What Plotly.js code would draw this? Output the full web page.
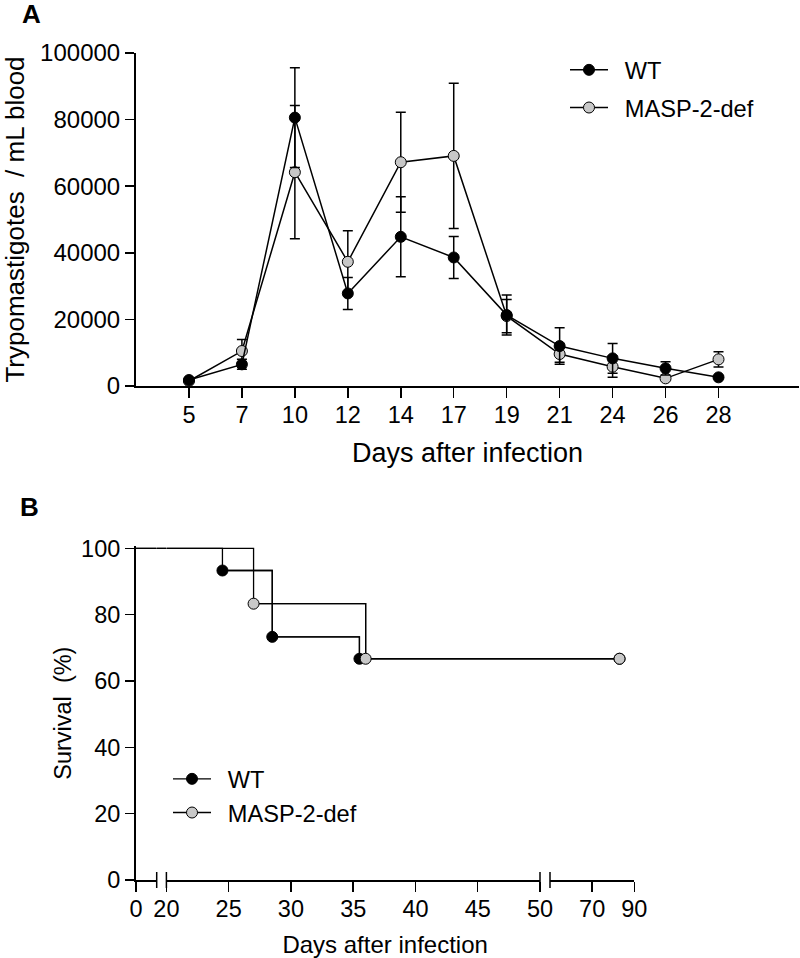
<!DOCTYPE html>
<html><head><meta charset="utf-8">
<script src="https://cdn.plot.ly/plotly-3.0.1.min.js"></script>
<style>html,body{margin:0;padding:0;background:#fff}#chart{width:800px;height:958px}</style>
</head><body><div id="chart"></div>
<script>
// ---------- Panel A data ----------
const daysA = ['5','7','10','12','14','17','19','21','24','26','28'];
const wtMean   = [1800, 6500, 80600, 27800, 44800, 38600, 21300, 12000, 8300, 5300, 2600];
const wtSem    = [300, 1500, 15000, 4800, 12000, 6300, 6000, 5500, 4500, 2000, 500];
const maspMean = [1500, 10500, 64200, 37300, 67200, 69100, 21000, 9600, 5800, 2300, 8000];
const maspSem  = [300, 3500, 20000, 9300, 15000, 21800, 5000, 2500, 3200, 600, 2300];
const yTicksA  = [0, 20000, 40000, 60000, 80000, 100000];

// ---------- Panel B data ----------
const wtTimes   = [0, 24.5, 28.5, 35.5, 83];
const wtSurv    = [100, 93.3, 73.3, 66.7, 66.7];
const maspTimes = [0, 27, 36, 83];
const maspSurv  = [100, 83.3, 66.7, 66.7];
const yTicksB   = [0, 20, 40, 60, 80, 100];
const seg1Ticks = [0];
const seg2Ticks = [20, 25, 30, 35, 40, 45, 50];
const seg3Ticks = [70, 90];
const groupNames = ['WT', 'MASP-2-def'];

// ---------- layout helpers ----------
const W = 800, H = 958;
const px = v => v / W;
const py = v => 1 - v / H;
const FONT = 'Liberation Sans, Arial, Helvetica, sans-serif';
const GRAY = '#c8c8c8';
const legendLabel = s => '\u2002' + s;   // small gap between legend symbol and text

// broken x-axis segments of panel B (axis ranges in days)
const segs = [
  {ax: 'x2', range: [0, 1.66]},
  {ax: 'x4', range: [20, 50]},
  {ax: 'x6', range: [50, 90]}
];
const gaps = [{ax: 'x3', nextStart: 20}, {ax: 'x5', nextStart: 50}];

function stepValue(times, surv, t) {
  let v = surv[0];
  for (let i = 0; i < times.length; i++) if (times[i] <= t) v = surv[i];
  return v;
}
function stepSegment(times, surv, lo, hi) {
  const last = times[times.length - 1];
  if (last < lo) return null;
  const xs = [lo], ys = [stepValue(times, surv, lo)];
  for (let i = 0; i < times.length; i++) {
    if (times[i] > lo && times[i] <= hi) { xs.push(times[i]); ys.push(surv[i]); }
  }
  if (last > hi) { xs.push(hi); ys.push(ys[ys.length - 1]); }
  return {xs, ys};
}

const traces = [];

// Panel A (MASP first so WT markers sit on top)
function seriesA(name, mean, sem, fill, rank) {
  return {
    type: 'scatter', mode: 'lines+markers', name: legendLabel(name),
    x: daysA, y: mean, xaxis: 'x', yaxis: 'y',
    line: {color: 'black', width: 1.5},
    marker: {size: 11, color: fill, line: {color: 'black', width: 1}},
    error_y: {type: 'data', array: sem, visible: true, color: 'black', thickness: 1.5, width: 5},
    cliponaxis: false, legend: 'legend', legendgroup: name, legendrank: rank
  };
}
traces.push(seriesA(groupNames[1], maspMean, maspSem, GRAY, 2));
traces.push(seriesA(groupNames[0], wtMean, wtSem, 'black', 1));

// Panel B step lines
function survLines(times, surv) {
  segs.forEach(s => {
    const seg = stepSegment(times, surv, s.range[0], s.range[1]);
    if (!seg) return;
    traces.push({type: 'scatter', mode: 'lines', x: seg.xs, y: seg.ys, xaxis: s.ax, yaxis: 'y2',
      line: {color: 'black', width: 1.3, shape: 'hv'}, showlegend: false, hoverinfo: 'skip'});
  });
  gaps.forEach(g => {
    const v = stepValue(times, surv, g.nextStart);
    traces.push({type: 'scatter', mode: 'lines', x: [0, 1], y: [v, v], xaxis: g.ax, yaxis: 'y2',
      line: {color: 'black', width: 1.3}, showlegend: false, hoverinfo: 'skip'});
  });
}
function survMarkers(name, times, surv, fill) {
  segs.forEach(s => {
    const xs = [], ys = [];
    for (let i = 1; i < times.length; i++) {
      if (times[i] > s.range[0] && times[i] <= s.range[1]) { xs.push(times[i]); ys.push(surv[i]); }
    }
    if (!xs.length) return;
    const show = s.ax === 'x4';
    traces.push({type: 'scatter', mode: show ? 'lines+markers' : 'markers', name: legendLabel(name),
      x: xs, y: ys, xaxis: s.ax, yaxis: 'y2',
      line: {color: 'black', width: 1.3, shape: 'hv'},
      marker: {size: 11, color: fill, line: {color: 'black', width: 1}},
      cliponaxis: false, showlegend: show, legend: 'legend2'});
  });
}
survLines(wtTimes, wtSurv);
survLines(maspTimes, maspSurv);
survMarkers(groupNames[0], wtTimes, wtSurv, 'black');
survMarkers(groupNames[1], maspTimes, maspSurv, GRAY);
// empty trace so the full-width title axis of panel B gets drawn
traces.push({type: 'scatter', mode: 'markers', x: [], y: [], xaxis: 'x7', yaxis: 'y2', showlegend: false});

const axBase = {
  showline: true, linecolor: 'black', linewidth: 2, ticks: 'outside', ticklen: 10,
  tickwidth: 1.5, tickcolor: 'black', showgrid: false, zeroline: false,
  tickfont: {size: 23.5, color: 'black'}, fixedrange: true
};
const hidden = {visible: false, range: [0, 1], anchor: 'y2', fixedrange: true};

// break marks on the panel-B x axis
const breakPos = [156.7, 166.4, 540, 550];
const shapes = breakPos.map(x => ({
  type: 'line', xref: 'paper', yref: 'paper', x0: px(x), x1: px(x),
  ysizemode: 'pixel', yanchor: py(880), y0: -8, y1: 8,
  line: {color: 'black', width: 1.5}
}));

const layout = {
  width: W, height: H, margin: {l: 0, r: 0, t: 0, b: 0},
  paper_bgcolor: 'white', plot_bgcolor: 'rgba(0,0,0,0)',
  font: {family: FONT, color: 'black', size: 23},
  showlegend: true,
  xaxis: Object.assign({}, axBase, {
    type: 'category', domain: [px(136), px(799)], range: [-1, 11.52], anchor: 'y',
    ticklabelstandoff: -3,
    title: {text: 'Days after infection', font: {size: 27}, standoff: 16}
  }),
  yaxis: Object.assign({}, axBase, {
    domain: [py(386), py(53)], range: [0, 100000], anchor: 'x',
    tickvals: yTicksA, tickformat: 'd', ticklen: 9, tickfont: {size: 24, color: 'black'},
    title: {text: 'Trypomastigotes\u00a0 / mL blood', font: {size: 26}, standoff: 16}
  }),
  yaxis2: Object.assign({}, axBase, {
    domain: [py(880), py(546.3)], range: [0, 100.6], anchor: 'x2',
    tickvals: yTicksB, ticklen: 9,
    title: {text: 'Survival\u00a0 (%)', font: {size: 23.5}, standoff: 3}
  }),
  xaxis2: Object.assign({}, axBase, {domain: [px(136), px(156.7)], range: segs[0].range, anchor: 'y2',
    tickvals: seg1Ticks, ticklabelstandoff: -3}),
  xaxis3: Object.assign({}, hidden, {domain: [px(156.7), px(166.4)]}),
  xaxis4: Object.assign({}, axBase, {domain: [px(166.4), px(540)], range: segs[1].range, anchor: 'y2',
    tickvals: seg2Ticks, ticklabelstandoff: -3}),
  xaxis5: Object.assign({}, hidden, {domain: [px(540), px(550)]}),
  xaxis6: Object.assign({}, axBase, {domain: [px(550), px(634.3)], range: segs[2].range, anchor: 'y2',
    tickvals: seg3Ticks, ticklabelstandoff: -3}),
  xaxis7: {domain: [px(136), px(634.3)], range: [0, 1], anchor: 'y2', showline: false, ticks: '',
    showticklabels: false, showgrid: false, zeroline: false, fixedrange: true,
    title: {text: 'Days after infection', font: {size: 24}, standoff: 56}},
  legend: {x: px(565), y: py(48), xanchor: 'left', yanchor: 'top', bgcolor: 'rgba(0,0,0,0)',
    font: {size: 23.6}, traceorder: 'grouped', tracegroupgap: 4, itemwidth: 38},
  legend2: {x: px(168), y: py(757), xanchor: 'left', yanchor: 'top', bgcolor: 'rgba(0,0,0,0)',
    font: {size: 23.6}, tracegroupgap: 3, itemwidth: 38},
  shapes: shapes,
  annotations: [
    {text: '<b>A</b>', xref: 'paper', yref: 'paper', x: px(20), y: py(-3.5), xanchor: 'left', yanchor: 'top',
      showarrow: false, font: {size: 26}},
    {text: '<b>B</b>', xref: 'paper', yref: 'paper', x: px(18), y: py(490), xanchor: 'left', yanchor: 'top',
      showarrow: false, font: {size: 26}}
  ]
};

Plotly.newPlot('chart', traces, layout, {displayModeBar: false, staticPlot: true});
</script>
</body></html>
